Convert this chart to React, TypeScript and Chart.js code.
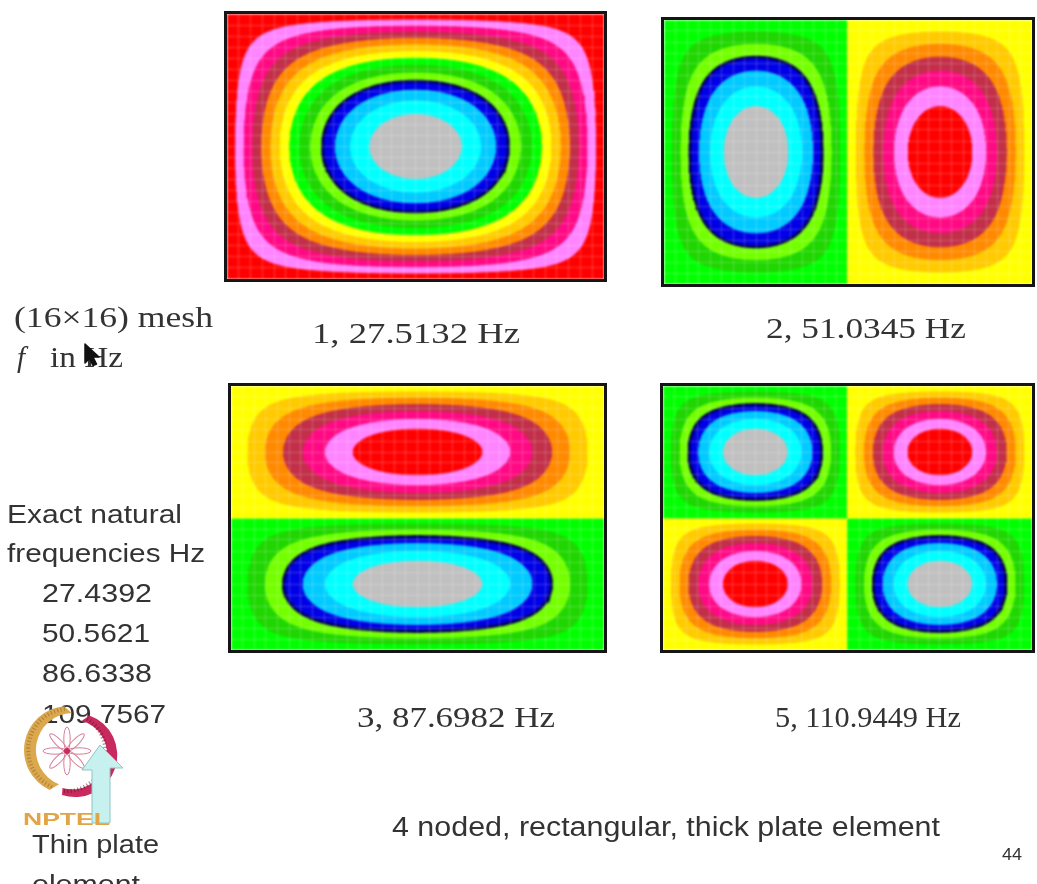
import React, { useEffect, useRef } from "react";
import { Chart, registerables } from "chart.js";

Chart.register(...registerables);

// ---- data ---------------------------------------------------------------

// Mode number and computed natural frequency (Hz) of each contour plot
const modeNumbers = [1, 2, 3, 5];
const frequencies = [27.5132, 51.0345, 87.6982, 110.9449];

// Half-wave counts of each mode along the plate length (x) and width (y)
const halfWavesX = [1, 2, 1, 2];
const halfWavesY = [1, 1, 2, 2];
// Phase of each plotted eigenvector
const modeSigns = [1, 1, 1, -1];
// Lower end of the colour range (upper end is always +1, normalised)
const rangeMin = [0, -1, -1, -1];

// Exact (thin plate) natural frequencies, Hz
const exactFrequencies = [27.4392, 50.5621, 86.6338, 109.7567];

// Contour band colours, lowest band first
const bandColors = [
  "#ff0000",
  "#ff84ff",
  "#ff0a84",
  "#c22f48",
  "#ff8a00",
  "#ffca00",
  "#ffff00",
  "#00ff00",
  "#1fd600",
  "#74ff00",
  "#0000e6",
  "#00caff",
  "#00ffff",
  "#c0c0c0",
];

// Plot grid divisions
const gridX = 32;
const gridY = 24;

// ---- contour geometry ---------------------------------------------------

type Pt = { x: number; y: number };

// Closed level curve |sin(pi p) sin(pi q)| = c inside one lobe of the mode
function lobeLevel(u0: number, u1: number, v0: number, v1: number, c: number): Pt[] {
  const toPt = (p: number, q: number): Pt => ({
    x: (u0 + p * (u1 - u0)) * gridX,
    y: (v0 + q * (v1 - v0)) * gridY,
  });
  if (c <= 0) {
    return [toPt(0, 0), toPt(1, 0), toPt(1, 1), toPt(0, 1), toPt(0, 0)];
  }
  const p0 = Math.asin(Math.min(c, 1)) / Math.PI;
  const n = 120;
  const upper: Pt[] = [];
  const lower: Pt[] = [];
  for (let i = 0; i <= n; i++) {
    const s = i / n;
    const p = p0 + ((1 - 2 * p0) * (1 - Math.cos(Math.PI * s))) / 2;
    const sp = Math.sin(Math.PI * p);
    const r = Math.min(1, c / Math.max(sp, 1e-9));
    const q = Math.asin(r) / Math.PI;
    upper.push(toPt(p, 1 - q));
    lower.push(toPt(p, q));
  }
  const pts = upper.concat(lower.reverse());
  pts.push(pts[0]);
  return pts;
}

function buildDatasets(mode: number) {
  const m = halfWavesX[mode];
  const n = halfWavesY[mode];
  const vmin = rangeMin[mode];
  const nb = bandColors.length;
  const step = (1 - vmin) / nb;
  const zeroBand = Math.round((0 - vmin) / step);
  const layers: { pts: Pt[]; band: number }[] = [];

  for (let i = 0; i < m; i++) {
    for (let j = 0; j < n; j++) {
      const u0 = i / m, u1 = (i + 1) / m;
      const v0 = j / n, v1 = (j + 1) / n;
      const sign = modeSigns[mode] * ((i + j) % 2 === 0 ? 1 : -1);
      if (sign > 0) {
        const base = Math.min(zeroBand, nb - 1);
        layers.push({ pts: lobeLevel(u0, u1, v0, v1, 0), band: base });
        for (let k = base + 1; k < nb; k++) {
          layers.push({ pts: lobeLevel(u0, u1, v0, v1, vmin + k * step), band: k });
        }
      } else {
        const base = zeroBand - 1;
        layers.push({ pts: lobeLevel(u0, u1, v0, v1, 0), band: base });
        for (let k = base - 1; k >= 0; k--) {
          layers.push({ pts: lobeLevel(u0, u1, v0, v1, -(vmin + (k + 1) * step)), band: k });
        }
      }
    }
  }

  // base rectangles first, then the level regions from the outside in
  const bases = layers.filter((l) => l.pts.length === 5);
  const rest = layers.filter((l) => l.pts.length !== 5);
  const ordered = bases.concat(
    rest.sort((a, b) => {
      const da = Math.abs(a.band - zeroBand + 0.5);
      const db = Math.abs(b.band - zeroBand + 0.5);
      return da - db;
    })
  );

  return ordered.map((l, idx) => {
    const isBlue = l.band === 10;
    return {
      data: l.pts,
      fill: "shape" as const,
      backgroundColor: bandColors[l.band],
      borderColor: isBlue ? "#00005a" : bandColors[l.band],
      borderWidth: isBlue ? 3 : 1,
      pointRadius: 0,
      tension: 0,
      order: 10000 - idx,
    };
  });
}

// ---- components ---------------------------------------------------------

const panelBoxes = [
  { left: 224, top: 11, width: 383, height: 271 },
  { left: 661, top: 17, width: 374, height: 270 },
  { left: 228, top: 383, width: 379, height: 270 },
  { left: 660, top: 383, width: 375, height: 270 },
];

function ModePanel({ mode }: { mode: number }) {
  const ref = useRef<HTMLCanvasElement>(null);
  const box = panelBoxes[mode];
  const border = 3;
  const w = box.width - 2 * border;
  const h = box.height - 2 * border;

  useEffect(() => {
    const canvas = ref.current;
    if (!canvas) return;
    // faint mesh lines drawn over the filled contour bands
    const gridStyle = { color: "rgba(255,255,255,0.22)", lineWidth: 1, drawTicks: false, z: 1 };
    const chart = new Chart(canvas, {
      type: "line",
      data: { datasets: buildDatasets(mode) as any },
      options: {
        animation: false,
        responsive: false,
        maintainAspectRatio: false,
        events: [],
        layout: { padding: 0, autoPadding: false },
        plugins: {
          legend: { display: false },
          tooltip: { enabled: false },
        },
        scales: {
          x: {
            type: "linear",
            min: 0,
            max: gridX,
            ticks: { display: false, stepSize: 1, maxTicksLimit: 200, autoSkip: false },
            grid: gridStyle,
            border: { display: false },
          },
          y: {
            type: "linear",
            min: 0,
            max: gridY,
            ticks: { display: false, stepSize: 1, maxTicksLimit: 200, autoSkip: false },
            grid: gridStyle,
            border: { display: false },
          },
        },
      } as any,
    });
    return () => chart.destroy();
  }, [mode]);

  return (
    <div
      style={{
        position: "absolute",
        left: box.left,
        top: box.top,
        width: box.width,
        height: box.height,
        border: `${border}px solid #151515`,
        boxSizing: "border-box",
        overflow: "hidden",
        background: "#fff",
      }}
    >
      <canvas
        ref={ref}
        width={w}
        height={h}
        style={{ display: "block", width: w, height: h, filter: "blur(1px)" }}
      />
    </div>
  );
}

const serif = "'Liberation Serif', 'Times New Roman', serif";
const sans = "'Liberation Sans', Arial, sans-serif";
const ink = "#333";

type Label = { text: string; x: number; y: number; w?: number; size: number; family: string };

const captionBoxes = [
  { x: 312, y: 343, w: 208 },
  { x: 766, y: 338, w: 200 },
  { x: 357, y: 727, w: 198 },
  { x: 775, y: 727, w: 186 },
];

const exactRows = [
  { y: 602, w: 110 },
  { y: 642, w: 108 },
  { y: 682, w: 110 },
  { y: 723, w: 124 },
];

function Txt({ l }: { l: Label }) {
  return (
    <text
      x={l.x}
      y={l.y}
      fontFamily={l.family}
      fontSize={l.size}
      fill={ink}
      textLength={l.w}
      lengthAdjust={l.w ? "spacingAndGlyphs" : undefined}
    >
      {l.text}
    </text>
  );
}

function NptelLogo() {
  const petals = [0, 45, 90, 135, 180, 225, 270, 315];
  return (
    <g>
      {/* gold crescent */}
      <path
        d="M 64.2 706.2 A 44 44 0 0 0 49.4 789.9 L 59.1 784.3 A 37 37 0 0 1 71.7 713 Z"
        fill="#dca84e"
      />
      <path
        d="M 65 709 A 41 41 0 0 0 52 787"
        fill="none"
        stroke="#8c6a2c"
        strokeWidth={4}
        strokeDasharray="1.2 2.2"
        opacity={0.55}
      />
      {/* crimson crescent */}
      <path
        d="M 89.4 715.5 A 42 42 0 0 1 62 794.9 L 62.5 788 A 35 35 0 0 0 81.8 720.7 Z"
        fill="#c82a5e"
      />
      <path
        d="M 87 719 A 39 39 0 0 1 63 791"
        fill="none"
        stroke="#5c1028"
        strokeWidth={4}
        strokeDasharray="1.2 2.2"
        opacity={0.5}
      />
      {/* star */}
      {petals.map((a) => {
        const cx = 67 + 12 * Math.cos((a * Math.PI) / 180);
        const cy = 751 + 12 * Math.sin((a * Math.PI) / 180);
        return (
          <ellipse
            key={a}
            cx={cx}
            cy={cy}
            rx={12}
            ry={3.2}
            transform={`rotate(${a} ${cx} ${cy})`}
            fill="none"
            stroke="#d77c98"
            strokeWidth={1}
          />
        );
      })}
      <circle cx={67} cy={751} r={3} fill="#c82a5e" />
      {/* arrow */}
      <polygon
        points="100,745 123,768 110,768 110,823 92,823 92,770 82,770"
        fill="#c6f1ee"
        stroke="#8fc6c2"
        strokeWidth={1}
      />
      <text
        x={23}
        y={825}
        fontFamily={sans}
        fontWeight={700}
        fontSize={17}
        fill="#e2a444"
        textLength={87}
        lengthAdjust="spacingAndGlyphs"
      >
        NPTEL
      </text>
    </g>
  );
}

export default function App() {
  const labels: Label[] = [
    { text: "(16\u00d716) mesh", x: 14, y: 327, w: 199, size: 29, family: serif },
    { text: "in Hz", x: 50, y: 367, w: 73, size: 29, family: serif },
    { text: "Exact natural", x: 7, y: 523, w: 175, size: 25, family: sans },
    { text: "frequencies Hz", x: 7, y: 562, w: 198, size: 25, family: sans },
    { text: "Thin plate", x: 32, y: 853, w: 127, size: 25, family: sans },
    { text: "element", x: 32, y: 893, w: 108, size: 25, family: sans },
    { text: "4 noded, rectangular, thick plate element", x: 392, y: 836, w: 548, size: 27, family: sans },
    { text: "44", x: 1002, y: 860, w: 20, size: 17, family: sans },
  ];
  modeNumbers.forEach((mn, i) => {
    const b = captionBoxes[i];
    labels.push({ text: `${mn}, ${frequencies[i].toFixed(4)} Hz`, x: b.x, y: b.y, w: b.w, size: 29, family: serif });
  });
  exactFrequencies.forEach((f, i) => {
    const r = exactRows[i];
    labels.push({ text: f.toFixed(4), x: 42, y: r.y, w: r.w, size: 25, family: sans });
  });

  return (
    <div
      style={{
        position: "fixed",
        left: 0,
        top: 0,
        width: 1037,
        height: 884,
        background: "#fff",
        overflow: "hidden",
      }}
    >
      {modeNumbers.map((_, i) => (
        <ModePanel key={i} mode={i} />
      ))}
      <svg
        width={1037}
        height={884}
        style={{ position: "absolute", left: 0, top: 0, pointerEvents: "none" }}
      >
        {labels.map((l, i) => (
          <Txt key={i} l={l} />
        ))}
        <text x={17} y={367} fontFamily={serif} fontSize={29} fontStyle="italic" fill={ink}>
          f
        </text>
        {/* mouse pointer */}
        <polygon
          points="85,344 85,363 89.5,358.5 93,365.5 96.5,364 93,357 99,357"
          fill="#111"
          stroke="#111"
          strokeWidth={1.5}
          strokeLinejoin="round"
        />
        <NptelLogo />
      </svg>
    </div>
  );
}
